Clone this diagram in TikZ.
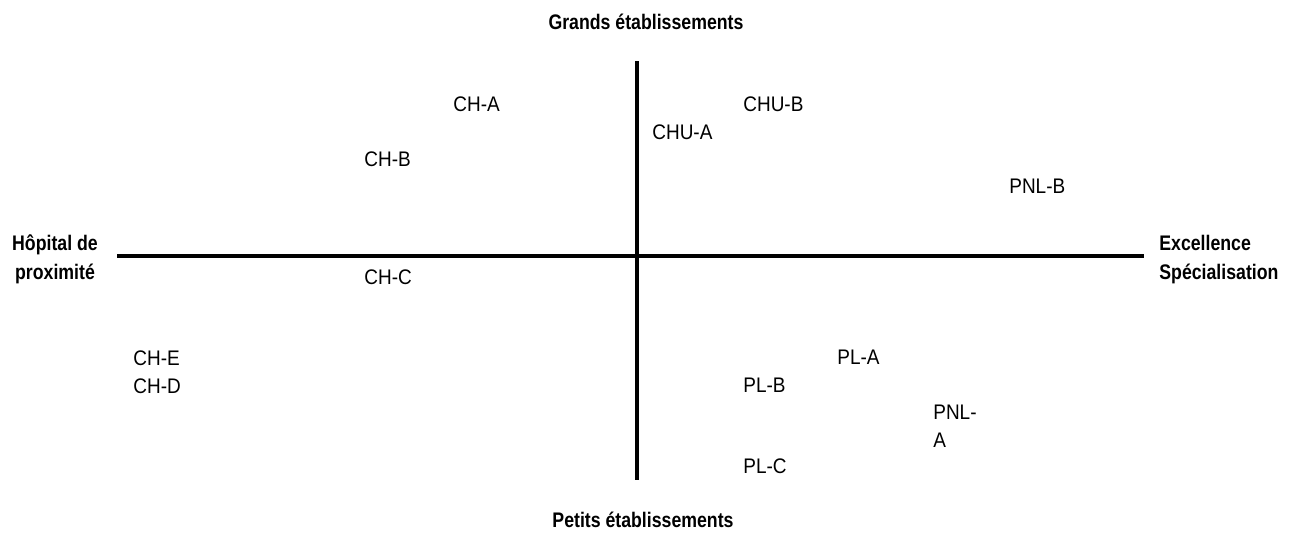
\documentclass[tikz,border=0pt]{standalone}
\usepackage{fontspec}
\setmainfont{Liberation Sans}[FakeStretch=0.9]
\newfontfamily\polefont{Liberation Sans}[FakeStretch=0.84]
\usetikzlibrary{positioning}
\tikzset{
		axis/.style = {line width=2.6pt},
		site/.style = {font=\fontsize{12}{15.5}\selectfont, anchor=base west, inner sep=0pt, align=left},
		pole/.style = {font=\polefont\bfseries\fontsize{12}{16}\selectfont, inner sep=0pt}
	}

\begin{document}
\begin{tikzpicture}[x=0.02cm,y=-0.02cm]
				\useasboundingbox (0,0) rectangle (1304,532);

				% axes
				\coordinate (n) at (637,61);
				\coordinate (s) at (637,480);
				\coordinate (w) at (117,256);
				\coordinate (e) at (1144,256);
				\draw[axis] (n) -- (s);
				\draw[axis] (w) -- (e);

				% poles (base = last line)
				\node[pole, anchor=base]                   (grands)  at (646,29)   {Grands établissements};
				\node[pole, anchor=base]                   (petits)  at (643,527)  {Petits établissements};
				\node[pole, anchor=base, align=center]     (proxi)   at (55,279)   {Hôpital de\\proximité};
				\node[pole, anchor=base west, align=left]  (excel)   at (1159,279) {Excellence\\Spécialisation};

				% etablissements
				\node[site] (cha)  at (453,111) {CH-A};
				\node[site] (chub) at (743,111) {CHU-B};
				\node[site] (chua) at (652,139) {CHU-A};
				\node[site] (chb)  at (364,166) {CH-B};
				\node[site] (pnlb) at (1009,193) {PNL-B};
				\node[site] (chc)  at (364,284) {CH-C};
				\node[site] (che)  at (133,393) {CH-E\\CH-D};
				\node[site] (pla)  at (837,364) {PL-A};
				\node[site] (plb)  at (743,392) {PL-B};
				\node[site] (pnla) at (933,447) {PNL-\\A};
				\node[site] (plc)  at (743,473) {PL-C};
			\end{tikzpicture}
\end{document}
